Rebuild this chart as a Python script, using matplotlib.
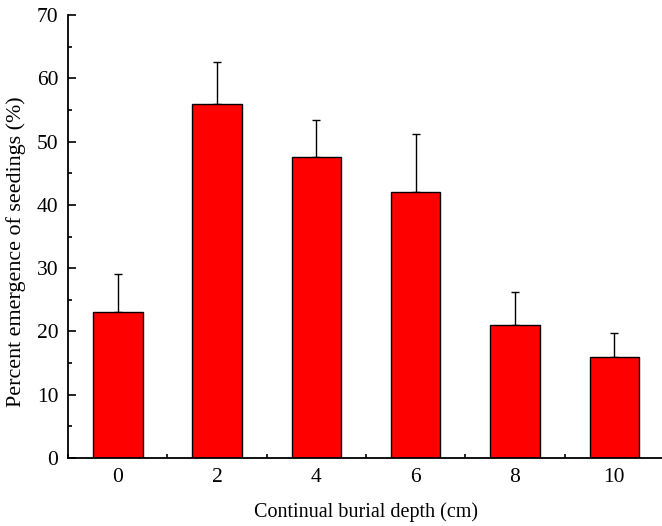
import matplotlib
matplotlib.use("Agg")
import matplotlib.pyplot as plt
from matplotlib.ticker import MultipleLocator

depths = [0, 2, 4, 6, 8, 10]
emergence = [23.0, 56.0, 47.5, 42.0, 21.0, 16.0]
errors = [6.1, 6.6, 5.9, 9.2, 5.3, 3.7]

plt.rcParams['font.family'] = ['Liberation Serif', 'DejaVu Serif']

fig = plt.figure(figsize=(6.62, 5.26), dpi=100)
ax = fig.add_axes([68 / 662, 1 - 458 / 526, (664 - 68) / 662, 443 / 526])

ax.bar(depths, emergence, width=1.0, color='#ff0000', edgecolor='black',
       linewidth=1.0, zorder=2)
ax.errorbar(depths, emergence, yerr=[[0] * len(errors), errors], fmt='none',
            ecolor='black', elinewidth=1.0, capsize=3, capthick=1.0, zorder=1)

ax.set_xlim(-1, 11)
ax.set_ylim(0, 70)
ax.set_xticks(depths)
ax.xaxis.set_minor_locator(MultipleLocator(1))
ax.yaxis.set_major_locator(MultipleLocator(10))
ax.yaxis.set_minor_locator(MultipleLocator(5))

for side in ['top', 'right']:
    ax.spines[side].set_visible(False)
for side in ['left', 'bottom']:
    ax.spines[side].set_linewidth(1.3)

ax.tick_params(which='major', direction='in', length=5.5, width=1.2,
               labelsize=15.5, pad=7)
ax.tick_params(which='minor', direction='in', length=3, width=1.2)

ax.set_xlabel('Continual burial depth (cm)', fontsize=14.5, labelpad=11)
ax.set_ylabel('Percent emergence of seedings (%)', fontsize=15.8)
ax.yaxis.set_label_coords(-0.071, 0.465)

fig.savefig('out.png', dpi=100)
